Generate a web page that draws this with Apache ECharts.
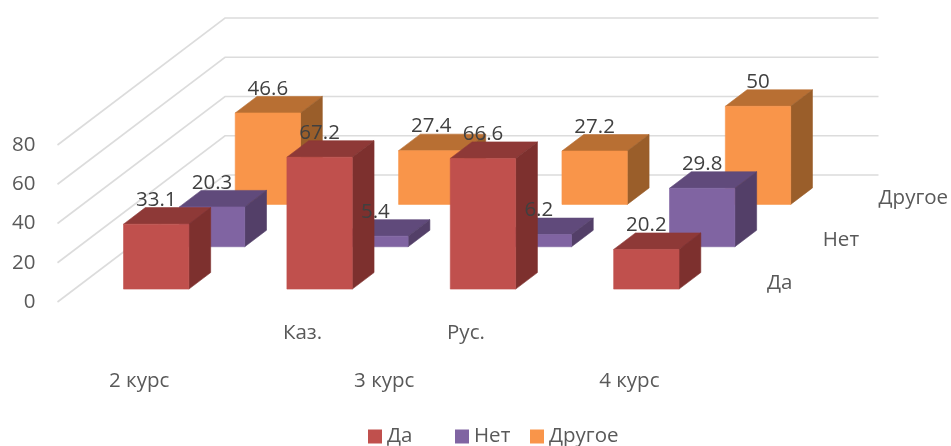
<!DOCTYPE html>
<html>
<head>
<meta charset="utf-8">
<style>html,body{margin:0;padding:0;background:#fff}#c{width:951px;height:446px}</style>
<script src="https://cdn.jsdelivr.net/npm/echarts@6/dist/echarts.min.js"></script>
</head>
<body>
<div id="c"></div>
<script>
const categories = ['', 'Каз.', 'Рус.', ''];
const groupLabels = ['2 курс', '3 курс', '4 курс'];
const groupSpans = [[0, 0], [1, 2], [3, 3]];
const yTicks = [0, 20, 40, 60, 80];
const seriesNames = ['Да', 'Нет', 'Другое'];
const valuesDa = [33.1, 67.2, 66.6, 20.2];
const valuesNet = [20.3, 5.4, 6.2, 29.8];
const valuesDrugoe = [46.6, 27.4, 27.2, 50];

const FONT = '"Open Sans", sans-serif';
const allValues = [valuesDa, valuesNet, valuesDrugoe];
const palette = [
  { front: '#C0504D', top: '#8E3937', side: '#7D302E' },
  { front: '#8064A2', top: '#604A7B', side: '#533F68' },
  { front: '#F9954A', top: '#B86F33', side: '#9A5E2A' }
];
const DX = 167.5, DY = 127;
const SLOT = 1 / 3, BAR_DEPTH = 0.13, GAP = (SLOT - BAR_DEPTH) / 2;

function barGeom(api, cat, val, slot) {
  const band = api.size([1, 0])[0];
  const w = band * 0.4;
  const f = slot * SLOT + GAP;
  const base = api.coord([cat, 0]);
  const top = api.coord([cat, val]);
  return {
    x0: base[0] - w / 2 + DX * f,
    x1: base[0] + w / 2 + DX * f,
    y0: base[1] - DY * f,
    y1: top[1] - DY * f,
    cx: base[0] + DX * f,
    ddx: DX * BAR_DEPTH,
    ddy: DY * BAR_DEPTH
  };
}

function barSeries(slot) {
  const c = palette[slot];
  return {
    type: 'custom',
    name: seriesNames[slot],
    coordinateSystem: 'cartesian2d',
    silent: true,
    itemStyle: { color: c.front },
    data: allValues[slot].map((v, i) => [i, v]),
    encode: { x: 0, y: 1 },
    renderItem(params, api) {
      const g = barGeom(api, api.value(0), api.value(1), slot);
      const poly = (points, color) => ({
        type: 'polygon',
        shape: { points },
        style: { fill: color, stroke: color, lineWidth: 0.6 }
      });
      return {
        type: 'group',
        children: [
          poly([[g.x0, g.y1], [g.x1, g.y1], [g.x1 + g.ddx, g.y1 - g.ddy], [g.x0 + g.ddx, g.y1 - g.ddy]], c.top),
          poly([[g.x1, g.y1], [g.x1 + g.ddx, g.y1 - g.ddy], [g.x1 + g.ddx, g.y0 - g.ddy], [g.x1, g.y0]], c.side),
          poly([[g.x0, g.y1], [g.x1, g.y1], [g.x1, g.y0], [g.x0, g.y0]], c.front)
        ]
      };
    }
  };
}

const wallSeries = {
  type: 'custom',
  name: 'walls',
  silent: true,
  coordinateSystem: 'cartesian2d',
  data: yTicks.map(t => [0, t]),
  encode: { x: 0, y: 1 },
  renderItem(params, api) {
    const y = api.coord([0, api.value(1)])[1];
    const x0 = params.coordSys.x, x1 = x0 + params.coordSys.width;
    return {
      type: 'polyline',
      shape: { points: [[x0, y], [x0 + DX, y - DY], [x1 + DX, y - DY]] },
      style: { fill: 'none', stroke: '#DCDCDC', lineWidth: 1.6 }
    };
  }
};

const dataLabelSeries = {
  type: 'custom',
  name: 'dataLabels',
  silent: true,
  coordinateSystem: 'cartesian2d',
  data: allValues.flatMap((vals, s) => vals.map((v, i) => [i, v, s])),
  encode: { x: 0, y: 1 },
  renderItem(params, api) {
    const v = api.value(1);
    const g = barGeom(api, api.value(0), v, api.value(2));
    return {
      type: 'text',
      z2: 100,
      style: {
        text: String(v), x: g.cx, y: g.y1 - 24,
        align: 'center', verticalAlign: 'middle',
        font: '20.5px ' + FONT, fill: '#404040'
      }
    };
  }
};

const groupLabelSeries = {
  type: 'custom',
  name: 'groupLabels',
  silent: true,
  coordinateSystem: 'cartesian2d',
  data: groupSpans.map((s, i) => [s[0], 0, s[1], i]),
  encode: { x: 0, y: 1 },
  renderItem(params, api) {
    const a = api.coord([api.value(0), 0]);
    const b = api.coord([api.value(2), 0]);
    return {
      type: 'text',
      style: {
        text: groupLabels[api.value(3)], x: (a[0] + b[0]) / 2, y: a[1] + 79,
        align: 'center', verticalAlign: 'middle',
        font: '20.5px ' + FONT, fill: '#595959'
      }
    };
  }
};

const depthLabelSeries = {
  type: 'custom',
  name: 'depthLabels',
  silent: true,
  coordinateSystem: 'cartesian2d',
  data: seriesNames.map((n, i) => [3, 0, i]),
  encode: { x: 0, y: 1 },
  renderItem(params, api) {
    const s = api.value(2);
    const x1 = params.coordSys.x + params.coordSys.width;
    const y = api.coord([0, 0])[1];
    return {
      type: 'text',
      style: {
        text: seriesNames[s], x: x1 + DX * (s + 0.5) * SLOT + 28, y: y - DY * (s + 0.5) * SLOT + 2,
        align: 'left', verticalAlign: 'middle',
        font: '20.5px ' + FONT, fill: '#595959'
      }
    };
  }
};

const legendBase = {
  top: 421,
  icon: 'rect', itemWidth: 14, itemHeight: 14, selectedMode: false,
  textStyle: { color: '#595959', fontFamily: FONT, fontSize: 20.5 }
};

const chart = echarts.init(document.getElementById('c'), null, { renderer: 'canvas' });
chart.setOption({
  animation: false,
  backgroundColor: '#ffffff',
  grid: { left: 57.5, top: 145, width: 653.5, height: 157, containLabel: false },
  xAxis: {
    type: 'category',
    data: categories,
    axisLine: { show: false },
    axisTick: { show: false },
    splitLine: { show: false },
    axisLabel: { interval: 0, margin: 21, color: '#595959', fontFamily: FONT, fontSize: 20.5 }
  },
  yAxis: {
    type: 'value',
    min: 0, max: 80, interval: 20,
    axisLine: { show: false },
    axisTick: { show: false },
    splitLine: { show: false },
    axisLabel: { margin: 22, padding: [4, 0, 0, 0], color: '#595959', fontFamily: FONT, fontSize: 20.5 }
  },
  legend: [
    Object.assign({}, legendBase, { left: 363, data: [seriesNames[0]] }),
    Object.assign({}, legendBase, { left: 450, data: [seriesNames[1]] }),
    Object.assign({}, legendBase, { left: 525, data: [seriesNames[2]] })
  ],
  series: [wallSeries, barSeries(2), barSeries(1), barSeries(0), dataLabelSeries, groupLabelSeries, depthLabelSeries]
});
</script>
</body>
</html>
